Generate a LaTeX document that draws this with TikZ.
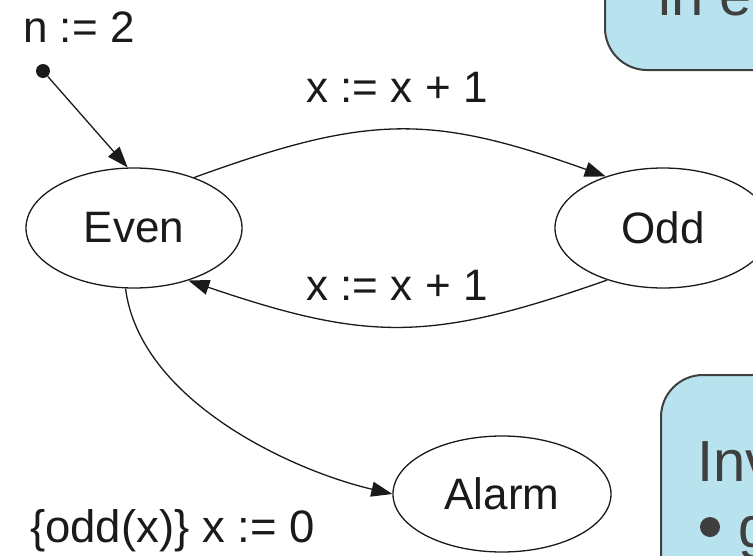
\documentclass[tikz,border=0pt]{standalone}
\usepackage{fontspec}
\setmainfont{Liberation Sans}
\usetikzlibrary{shapes.geometric,arrows.meta}
\definecolor{boxfill}{HTML}{B8E3EE}
\definecolor{boxtext}{HTML}{3F3F3F}
\definecolor{ink}{HTML}{1A1A1A}
\newcommand\lblfont{\fontsize{44}{52}\selectfont}
\newcommand\boxfont{\fontsize{58}{66}\selectfont}
\begin{document}
\begin{tikzpicture}[x=1pt,y=-1pt,
  state/.style={ellipse, draw=ink, line width=1.3pt, inner sep=0pt,
    minimum width=216pt, minimum height=120pt, font=\lblfont, text=ink},
  lbl/.style={inner sep=0pt, font=\lblfont, text=ink},
  edge/.style={draw=ink, line width=1.3pt, -{Triangle[length=21pt,width=15pt]}},
  notebox/.style={draw=boxtext, fill=boxfill, line width=2pt, rounded corners=42pt},
  boxtxt/.style={inner sep=0pt, font=\boxfont, text=boxtext, anchor=base west}]
\useasboundingbox (0,0) rectangle (753,555);
\clip (0,0) rectangle (753,555);
% note boxes
\draw[notebox] (605,-100) rectangle (900,70);
\node[boxtxt] (t1) at (658,15) {in e};
\draw[notebox] (661,375) rectangle (900,700);
\node[boxtxt] (t2) at (697,481) {Inv};
\node[circle, fill=boxtext, inner sep=0pt, minimum size=20pt] (bul) at (710,527) {};
\node[boxtxt] (t3) at (738,547) {g};
% states
\node[state] (even) at (134,228) {Even};
\node[state] (odd) at (663,228) {Odd};
\node[state, minimum width=218pt, minimum height=116pt] (alarm) at (502,494) {Alarm};
% initial
\node[circle, fill=ink, inner sep=0pt, minimum size=14pt] (init) at (43,71) {};
\node[lbl, anchor=base] (ninit) at (79,42) {n := 2};
% transitions
\draw[edge] (init) -- (even.96);
\draw[edge] (even.40) .. controls (369,114) and (431,114) .. (odd.138);
\draw[edge] (odd.-137) .. controls (431,342) and (369,342) .. (even.-44);
\draw[edge] (even.-98) .. controls (140,400) and (290,470) .. (alarm.west);
% labels
\node[lbl, anchor=base] (l1) at (397,102) {x := x + 1};
\node[lbl, anchor=base] (l2) at (397,300) {x := x + 1};
\node[lbl, anchor=base west, font=\fontsize{45.5}{52}\selectfont] (l3) at (30,542) {\{odd(x)\} x := 0};
\end{tikzpicture}
\end{document}
